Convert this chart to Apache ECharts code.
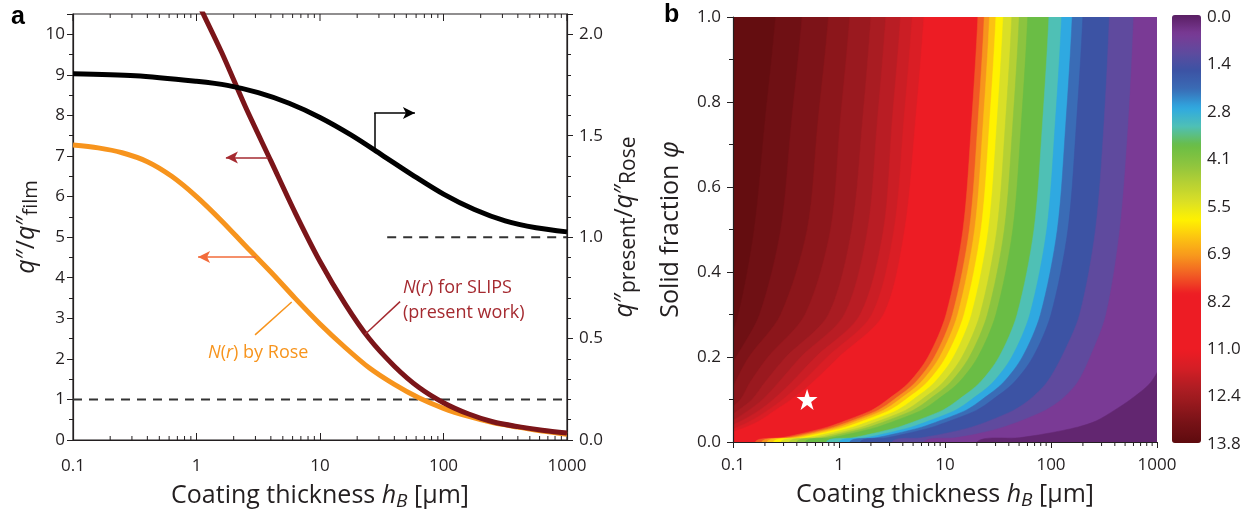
<!DOCTYPE html>
<html>
<head>
<meta charset="utf-8">
<script src="https://cdn.jsdelivr.net/npm/echarts@6/dist/echarts.min.js"></script>
<style>
html, body { margin: 0; padding: 0; background: #fff; }
#main { width: 1251px; height: 512px; }
</style>
</head>
<body>
<div id="main"></div>
<script>
// 基于准备好的dom，初始化echarts实例
var myChart = echarts.init(document.getElementById('main'));

// ---------- panel a : heat flux ratios vs coating thickness ----------
var sampleH = [0.1, 0.16, 0.25, 0.4, 0.63, 1, 1.6, 2.5, 4, 6.3, 10, 16, 25, 40, 63, 100, 160, 250, 400, 630, 1000];
var roseQ = [7.27, 7.20, 7.08, 6.86, 6.50, 6.00, 5.40, 4.78, 4.14, 3.49, 2.86, 2.28, 1.78, 1.37, 1.04, 0.78, 0.58, 0.43, 0.32, 0.22, 0.14];

var slipsH = [0.8, 1, 1.6, 2.5, 4, 6.3, 10, 16, 25, 40, 63, 100, 160, 250, 400, 630, 1000];
var slipsQ = [11.5, 10.85, 9.55, 8.2, 6.88, 5.6, 4.4, 3.35, 2.5, 1.82, 1.3, 0.92, 0.64, 0.45, 0.33, 0.24, 0.17];

// q''present / q''Rose (right axis)
var ratioH = [0.1, 0.32, 1, 1.78, 3.16, 5.62, 10, 17.8, 31.6, 56.2, 100, 178, 316, 562, 1000];
var ratioQ = [1.806, 1.796, 1.768, 1.748, 1.712, 1.66, 1.59, 1.504, 1.406, 1.306, 1.212, 1.136, 1.08, 1.046, 1.026];

var unityLeft = [[0.1, 1], [1000, 1]];
var unityRight = [[35, 1], [1000, 1]];

// ---------- panel b : filled contours, log10(h) at which each level is crossed ----------
var phiRows = [0, 0.01, 0.02, 0.035, 0.05, 0.075, 0.1, 0.14, 0.2, 0.3, 0.5, 0.75, 1.0];
var levels = [0.3, 0.9, 1.5, 2.1, 2.7, 3.3, 3.9, 4.5, 5.1, 5.7, 6.3, 6.9, 7.5, 8.1, 8.7,
  11.1, 11.4, 11.7, 12.0, 12.3, 12.6, 12.9, 13.2, 13.5];
// value of the band just below each level (last one: above the highest level)
var bandValues = [0.15, 0.6, 1.2, 1.8, 2.4, 3.0, 3.6, 4.2, 4.8, 5.4, 6.0, 6.6, 7.2, 7.8, 8.4, 9.9,
  11.25, 11.55, 11.85, 12.15, 12.45, 12.75, 13.05, 13.35, 13.65];
var contourLogH = [
  [1.30, 0.80, 0.50, 0.20, 0.10, 0.00, -0.12, -0.32, -0.40, -0.47, -0.55, -0.62, -0.68, -0.73, -0.79, -1.40, -1.49, -1.58, -1.67, -1.75, -1.85, -1.95, -2.07, -2.20],
  [1.70, 1.10, 0.78, 0.45, 0.35, 0.25, 0.13, -0.07, -0.15, -0.22, -0.30, -0.37, -0.43, -0.48, -0.54, -1.20, -1.29, -1.38, -1.47, -1.55, -1.65, -1.75, -1.87, -2.00],
  [1.96, 1.32, 1.00, 0.64, 0.54, 0.44, 0.32, 0.12, 0.04, -0.03, -0.11, -0.18, -0.24, -0.29, -0.35, -1.05, -1.13, -1.22, -1.31, -1.40, -1.50, -1.60, -1.75, -1.90],
  [2.25, 1.55, 1.25, 0.88, 0.78, 0.68, 0.56, 0.36, 0.28, 0.21, 0.13, 0.06, 0.00, -0.05, -0.11, -0.88, -0.96, -1.05, -1.15, -1.25, -1.35, -1.45, -1.60, -1.75],
  [2.43, 1.72, 1.42, 1.05, 0.95, 0.85, 0.73, 0.53, 0.45, 0.38, 0.30, 0.23, 0.17, 0.12, 0.06, -0.75, -0.83, -0.92, -1.01, -1.10, -1.20, -1.30, -1.45, -1.60],
  [2.60, 1.95, 1.65, 1.30, 1.20, 1.10, 0.98, 0.78, 0.70, 0.63, 0.55, 0.48, 0.42, 0.37, 0.31, -0.60, -0.67, -0.75, -0.85, -0.95, -1.05, -1.15, -1.30, -1.45],
  [2.75, 2.10, 1.80, 1.45, 1.35, 1.25, 1.13, 0.93, 0.85, 0.78, 0.70, 0.63, 0.57, 0.52, 0.46, -0.45, -0.53, -0.62, -0.72, -0.82, -0.93, -1.05, -1.20, -1.35],
  [2.94, 2.25, 1.96, 1.65, 1.55, 1.45, 1.33, 1.13, 1.05, 0.98, 0.90, 0.83, 0.77, 0.72, 0.66, -0.25, -0.35, -0.45, -0.57, -0.70, -0.84, -0.98, -1.11, -1.25],
  [3.07, 2.37, 2.10, 1.83, 1.73, 1.63, 1.51, 1.31, 1.23, 1.16, 1.08, 1.01, 0.95, 0.90, 0.84, 0.00, -0.11, -0.22, -0.36, -0.50, -0.67, -0.85, -0.97, -1.10],
  [3.20, 2.52, 2.27, 2.00, 1.90, 1.80, 1.68, 1.48, 1.40, 1.33, 1.25, 1.18, 1.12, 1.07, 1.01, 0.42, 0.31, 0.20, 0.05, -0.10, -0.32, -0.55, -0.75, -0.95],
  [3.33, 2.65, 2.42, 2.16, 2.06, 1.96, 1.84, 1.64, 1.56, 1.49, 1.41, 1.34, 1.28, 1.23, 1.17, 0.62, 0.52, 0.42, 0.27, 0.12, -0.08, -0.30, -0.55, -0.80],
  [3.41, 2.73, 2.50, 2.24, 2.14, 2.04, 1.92, 1.72, 1.64, 1.57, 1.49, 1.42, 1.36, 1.31, 1.25, 0.72, 0.61, 0.50, 0.36, 0.22, 0.01, -0.20, -0.45, -0.70],
  [3.45, 2.78, 2.55, 2.30, 2.20, 2.10, 1.98, 1.78, 1.70, 1.63, 1.55, 1.48, 1.42, 1.37, 1.31, 0.80, 0.69, 0.58, 0.44, 0.30, 0.10, -0.10, -0.35, -0.60]
];
var starPoint = [[0.5, 0.1]];
var cbarLabels = ['0.0', '1.4', '2.8', '4.1', '5.5', '6.9', '8.2', '11.0', '12.4', '13.8'];

// colours of the colour bar, evenly spaced from 0 to 13.8
var cbarColors = ['#5a1f63', '#7a3a95', '#5f4a9e', '#3c53a4', '#3a6cb6', '#2fa9e1', '#4fc0b5', '#6abd45',
  '#8cc43f', '#b5d034', '#d9df27', '#fff200', '#fcc212', '#f7941d', '#f15a24', '#ed1c24', '#ed1c24',
  '#ed1c24', '#ed1c24', '#d41e25', '#b01d23', '#93181d', '#751116', '#5e0b0e'];

var FONT = '"Open Sans", "Noto Sans", sans-serif';
var INK = '#231f20';

function pairs(xs, ys) {
  return xs.map(function (x, i) { return [x, ys[i]]; });
}
function logLabel(v) {
  return String(+(+v).toPrecision(4));
}

// ticks of the log axes: [value, 1 for a decade, 0 for 2..9]
var logTicks = [];
for (var d = -1; d <= 3; d++) {
  logTicks.push([Math.pow(10, d), 1]);
  if (d < 3) {
    for (var m = 2; m <= 9; m++) logTicks.push([m * Math.pow(10, d), 0]);
  }
}

// subscripts: extra top padding pushes the small text below the main line
function nameStyle(size, sub) {
  return {
    fontFamily: FONT, fontSize: size, color: INK, lineHeight: 30,
    rich: {
      i: { fontFamily: FONT, fontSize: size, fontStyle: 'italic', color: INK, lineHeight: 30 },
      s: { fontFamily: FONT, fontSize: sub, color: INK, lineHeight: sub + 2, padding: [12, 0, 0, 0], verticalAlign: 'bottom' },
      si: { fontFamily: FONT, fontSize: sub, fontStyle: 'italic', color: INK, lineHeight: sub + 2, padding: [12, 0, 0, 0], verticalAlign: 'bottom' }
    }
  };
}

var axisLine = { show: true, onZero: false, lineStyle: { color: INK, width: 1.2 } };
var label17 = { fontFamily: FONT, fontSize: 17, color: INK };

var bandData = [[bandValues[levels.length], -1]];
for (var k = levels.length - 1; k >= 0; k--) bandData.push([bandValues[k], k]);

function renderBand(params, api) {
  var k = api.value(1);
  var cs = params.coordSys;
  var c = api.visual('color');
  var top = cs.y - 40, bottom = cs.y + cs.height + 40, right = cs.x + cs.width + 40;
  if (k < 0) {
    return {
      type: 'rect', shape: { x: cs.x, y: cs.y, width: cs.width, height: cs.height },
      style: { fill: c }
    };
  }
  var pts = phiRows.map(function (phi, i) {
    return api.coord([Math.pow(10, contourLogH[i][k]), phi]);
  });
  // run the edge past the plot so the smoothed outline meets top and bottom squarely
  pts.unshift([pts[0][0], bottom]);
  pts.push([pts[pts.length - 1][0], top], [right, top], [right, bottom]);
  return {
    type: 'polygon', shape: { points: pts, smooth: 0.3 },
    style: { fill: c, stroke: c, lineWidth: 0.5 }
  };
}

// panel a: minor ticks at the bottom, all ticks along the top frame
function ticksA(params, api) {
  var major = api.value(1) === 1;
  var b = api.coord([api.value(0), 0]);
  var t = api.coord([api.value(0), 10.5]);
  var kids = [
    { type: 'line', shape: { x1: t[0], y1: t[1], x2: t[0], y2: t[1] + (major ? 7 : 4) }, style: { stroke: INK, lineWidth: 1 } }
  ];
  if (!major) {
    kids.push({ type: 'line', shape: { x1: b[0], y1: b[1], x2: b[0], y2: b[1] - 4 }, style: { stroke: INK, lineWidth: 1 } });
  }
  return { type: 'group', children: kids };
}

function ticksB(params, api) {
  if (api.value(1) === 1) return null;
  var b = api.coord([api.value(0), 0]);
  return { type: 'line', shape: { x1: b[0], y1: b[1], x2: b[0], y2: b[1] + 4 }, style: { stroke: INK, lineWidth: 1 } };
}

function arrowLine(p, q, color, head) {
  return [
    { coord: p, symbol: 'none' },
    { coord: q, symbol: head ? 'arrow' : 'none', lineStyle: { color: color } }
  ];
}

var option = {
  animation: false,
  textStyle: { fontFamily: FONT },
  grid: [
    { left: 73, top: 14, width: 494, height: 426, outerBoundsMode: 'none', containLabel: false,
      show: true, borderColor: INK, borderWidth: 1.2, backgroundColor: 'transparent' },
    { left: 733, top: 17, width: 424, height: 425, outerBoundsMode: 'none', containLabel: false },
    { left: 1172, top: 17, width: 29, height: 427, outerBoundsMode: 'none', containLabel: false }
  ],
  xAxis: [
    {
      type: 'log', gridIndex: 0, min: 0.1, max: 1000, axisLine: axisLine,
      axisTick: { show: true, inside: true, length: 7, lineStyle: { color: INK } },
      axisLabel: Object.assign({ margin: 18, formatter: logLabel }, label17), splitLine: { show: false },
      name: 'Coating thickness {i|h}{si|B} [μm]', nameLocation: 'middle', nameGap: 38, nameTextStyle: nameStyle(25, 19)
    },
    {
      type: 'log', gridIndex: 1, min: 0.1, max: 1000, axisLine: axisLine, z: 10,
      axisTick: { show: true, inside: false, length: 6, lineStyle: { color: INK } },
      axisLabel: Object.assign({ margin: 15, formatter: logLabel }, label17), splitLine: { show: false },
      name: 'Coating thickness {i|h}{si|B} [μm]', nameLocation: 'middle', nameGap: 34, nameTextStyle: nameStyle(25, 19)
    },
    { type: 'value', gridIndex: 2, show: false, min: 0, max: 1 }
  ],
  yAxis: [
    {
      type: 'value', gridIndex: 0, min: 0, max: 10.5, interval: 1, position: 'left', axisLine: axisLine,
      axisTick: { show: true, length: 6, lineStyle: { color: INK } },
      minorTick: { show: true, splitNumber: 2, length: 4, lineStyle: { color: INK } },
      axisLabel: Object.assign({ margin: 8, showMaxLabel: false }, label17), splitLine: { show: false },
      name: '{i|q}″/{i|q}″{s|film}', nameLocation: 'middle', nameGap: 26, nameTextStyle: nameStyle(25, 20)
    },
    {
      type: 'value', gridIndex: 0, min: 0, max: 2.1, interval: 0.5, position: 'right', axisLine: axisLine,
      axisTick: { show: true, length: 6, lineStyle: { color: INK } },
      minorTick: { show: true, splitNumber: 5, length: 4, lineStyle: { color: INK } },
      axisLabel: Object.assign({ margin: 12, showMaxLabel: false, formatter: function (v) { return v.toFixed(1); } }, label17),
      splitLine: { show: false },
      name: '{i|q}″{s|present}/{i|q}″{s|Rose}', nameLocation: 'middle', nameGap: 43, nameTextStyle: nameStyle(25, 21)
    },
    {
      type: 'value', gridIndex: 1, min: 0, max: 1, interval: 0.2, axisLine: axisLine, z: 10,
      axisTick: { show: true, length: 6, lineStyle: { color: INK } },
      minorTick: { show: true, splitNumber: 2, length: 4, lineStyle: { color: INK } },
      axisLabel: Object.assign({ margin: 12, formatter: function (v) { return v.toFixed(1); } }, label17),
      splitLine: { show: false },
      name: 'Solid fraction {i|φ}', nameLocation: 'middle', nameGap: 47, nameTextStyle: nameStyle(25, 19)
    },
    {
      type: 'category', gridIndex: 2, data: cbarLabels, boundaryGap: false, inverse: true, position: 'right',
      axisLine: { show: false }, axisTick: { show: false }, splitLine: { show: false },
      axisLabel: Object.assign({ margin: 6, interval: 0 }, label17)
    }
  ],
  visualMap: {
    type: 'continuous', min: 0, max: 13.8, dimension: 0, seriesIndex: 6, inverse: true,
    left: 1172, top: 15, itemWidth: 29, itemHeight: 428, padding: 0,
    calculable: false, text: null, hoverLink: false,
    inRange: { color: cbarColors }
  },
  series: [
    {
      name: 'N(r) by Rose', type: 'line', xAxisIndex: 0, yAxisIndex: 0, data: pairs(sampleH, roseQ),
      smooth: 0.3, symbol: 'none', lineStyle: { color: '#f7941d', width: 5 }, z: 3,
      markLine: {
        silent: true, animation: false, symbolSize: [9, 12], label: { show: false },
        lineStyle: { color: '#f26b3a', width: 1.5, type: 'solid' },
        data: [
          arrowLine([3.03, 4.51], [1.03, 4.51], '#f26b3a', true),
          arrowLine([2.98, 2.59], [5.9, 3.4], '#f7941d', false)
        ]
      }
    },
    {
      name: 'N(r) for SLIPS', type: 'line', xAxisIndex: 0, yAxisIndex: 0, data: pairs(slipsH, slipsQ),
      smooth: 0.3, symbol: 'none', lineStyle: { color: '#7b1519', width: 5 }, z: 4,
      markLine: {
        silent: true, animation: false, symbolSize: [9, 12], label: { show: false },
        lineStyle: { color: '#a52a30', width: 1.5, type: 'solid' },
        data: [
          arrowLine([3.81, 6.96], [1.73, 6.96], '#a52a30', true),
          arrowLine([23.1, 2.6], [44.5, 3.41], '#a52a30', false)
        ]
      }
    },
    {
      name: 'ratio', type: 'line', xAxisIndex: 0, yAxisIndex: 1, data: pairs(ratioH, ratioQ),
      smooth: 0.3, symbol: 'none', lineStyle: { color: '#000', width: 5 }, z: 5,
      markLine: {
        silent: true, animation: false, symbolSize: [9, 12], label: { show: false },
        lineStyle: { color: '#000', width: 1.5, type: 'solid' },
        data: [
          arrowLine([27.5, 1.42], [27.5, 1.612], '#000', false),
          arrowLine([27.5, 1.612], [58.7, 1.612], '#000', true)
        ]
      }
    },
    {
      type: 'line', xAxisIndex: 0, yAxisIndex: 0, data: unityLeft, symbol: 'none', z: 2,
      lineStyle: { color: '#333', width: 2, type: [9, 7] }
    },
    {
      type: 'line', xAxisIndex: 0, yAxisIndex: 1, data: unityRight, symbol: 'none', z: 2,
      lineStyle: { color: '#333', width: 2, type: [9, 7] }
    },
    {
      type: 'custom', xAxisIndex: 0, yAxisIndex: 0, data: logTicks, renderItem: ticksA, silent: true, z: 6
    },
    {
      type: 'custom', xAxisIndex: 1, yAxisIndex: 2, data: bandData, renderItem: renderBand,
      clip: true, silent: true, z: 1
    },
    {
      type: 'scatter', xAxisIndex: 1, yAxisIndex: 2, data: starPoint, z: 5, silent: true,
      symbol: 'path://M50,0 L61.8,35.3 L99,35.3 L69,57.4 L80.4,92.6 L50,71 L19.6,92.6 L31,57.4 L1,35.3 L38.2,35.3 Z',
      symbolSize: 21, itemStyle: { color: '#fff', opacity: 1 }
    },
    {
      type: 'custom', xAxisIndex: 1, yAxisIndex: 2, data: logTicks, renderItem: ticksB, silent: true, z: 6
    }
  ]
};
myChart.setOption(option);

// annotations placed through the axes of panel a
function px(h, v) {
  return myChart.convertToPixel({ xAxisIndex: 0, yAxisIndex: 0 }, [h, v]);
}
var roseAt = px(1.24, 2.14);
var slipsAt = px(47, 3.44);
function annoStyle(text, color) {
  return {
    text: text, fill: color, fontFamily: FONT, fontSize: 18, lineHeight: 25,
    align: 'left', verticalAlign: 'middle',
    rich: { i: { fill: color, fontFamily: FONT, fontSize: 18, fontStyle: 'italic', lineHeight: 25 } }
  };
}
myChart.setOption({
  graphic: [
    { type: 'text', left: 11, top: 5, style: { text: 'a', fill: '#000', font: 'bold 25px "Liberation Sans", Arial, sans-serif' } },
    { type: 'text', left: 664, top: 3, style: { text: 'b', fill: '#000', font: 'bold 25px "Liberation Sans", Arial, sans-serif' } },
    { type: 'text', x: roseAt[0], y: roseAt[1], style: annoStyle('{i|N}({i|r}) by Rose', '#f7941d') },
    { type: 'text', x: slipsAt[0], y: slipsAt[1], style: annoStyle('{i|N}({i|r}) for SLIPS\n(present work)', '#a52a30') }
  ]
});
</script>
</body>
</html>
